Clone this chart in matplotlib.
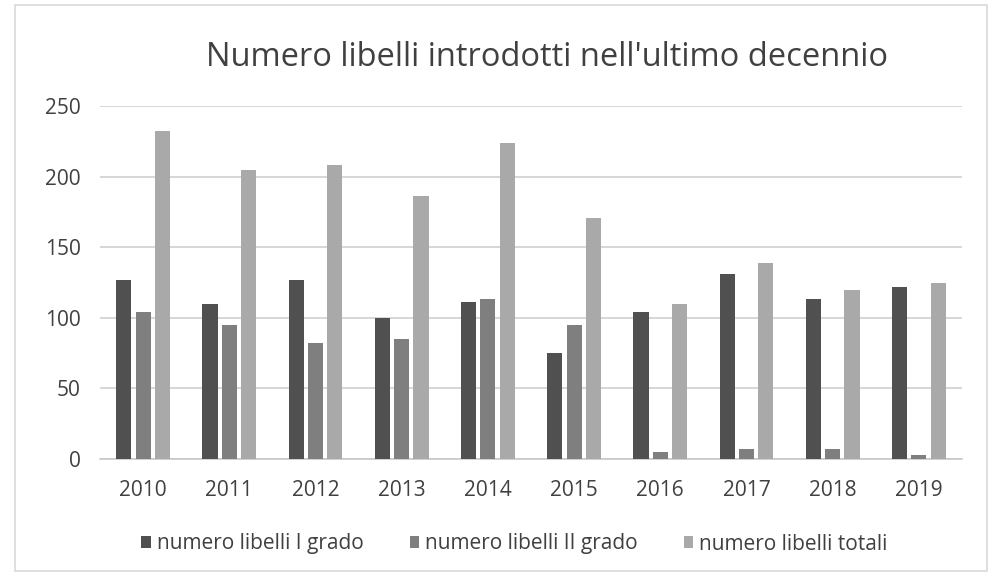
import matplotlib.pyplot as plt
import numpy as np
from matplotlib.patches import Rectangle

plt.rcParams['font.family'] = ['Open Sans', 'DejaVu Sans']

anni = ['2010', '2011', '2012', '2013', '2014', '2015', '2016', '2017', '2018', '2019']
primo_grado = [127, 110, 127, 100, 111, 75, 104, 131, 113, 122]
secondo_grado = [104, 95, 82, 85, 113, 95, 5, 7, 7, 3]
totali = [232, 205, 208, 186, 224, 171, 110, 139, 120, 125]

fig = plt.figure(figsize=(9.93, 5.76), dpi=100)
ax = fig.add_axes([100 / 993, 1 - 459 / 576, 862 / 993, 353 / 576])

x = np.arange(len(anni))
w = 0.175
off = 0.224
ax.bar(x - off, primo_grado, w, color='#505050', label='numero libelli I grado', zorder=3)
ax.bar(x, secondo_grado, w, color='#7f7f7f', label='numero libelli II grado', zorder=3)
ax.bar(x + off, totali, w, color='#a9a9a9', label='numero libelli totali', zorder=3)

ax.set_xlim(-0.5, len(anni) - 0.5)
ax.set_ylim(0, 250)
ax.set_yticks([0, 50, 100, 150, 200, 250])
ax.set_xticks(x)
ax.set_xticklabels(anni)
ax.grid(axis='y', color='#d0d0d0', linewidth=1.2, zorder=0)
for s in ['top', 'right', 'left']:
    ax.spines[s].set_visible(False)
ax.spines['bottom'].set_color('#c8c8c8')
ax.spines['bottom'].set_linewidth(1.2)
ax.tick_params(axis='both', length=0, labelsize=15, colors='#404040')
ax.tick_params(axis='y', pad=14)
ax.tick_params(axis='x', pad=15)

fig.text(0.5505, 1 - 57 / 576, "Numero libelli introdotti nell'ultimo decennio",
         ha='center', va='center', fontsize=23.5, color='#404040')

ax.legend(loc='center', bbox_to_anchor=(0.481, -(544 - 459) / 353), ncol=3, frameon=False,
          fontsize=15, handlelength=0.45, handleheight=0.45, handletextpad=0.3,
          columnspacing=2.2, labelcolor='#404040')

fig.patches.append(Rectangle((15 / 993, 5 / 576), 972 / 993, 566 / 576, transform=fig.transFigure,
                             fill=False, edgecolor='#d9d9d9', linewidth=1.2))

fig.savefig('out.png', dpi=100)
